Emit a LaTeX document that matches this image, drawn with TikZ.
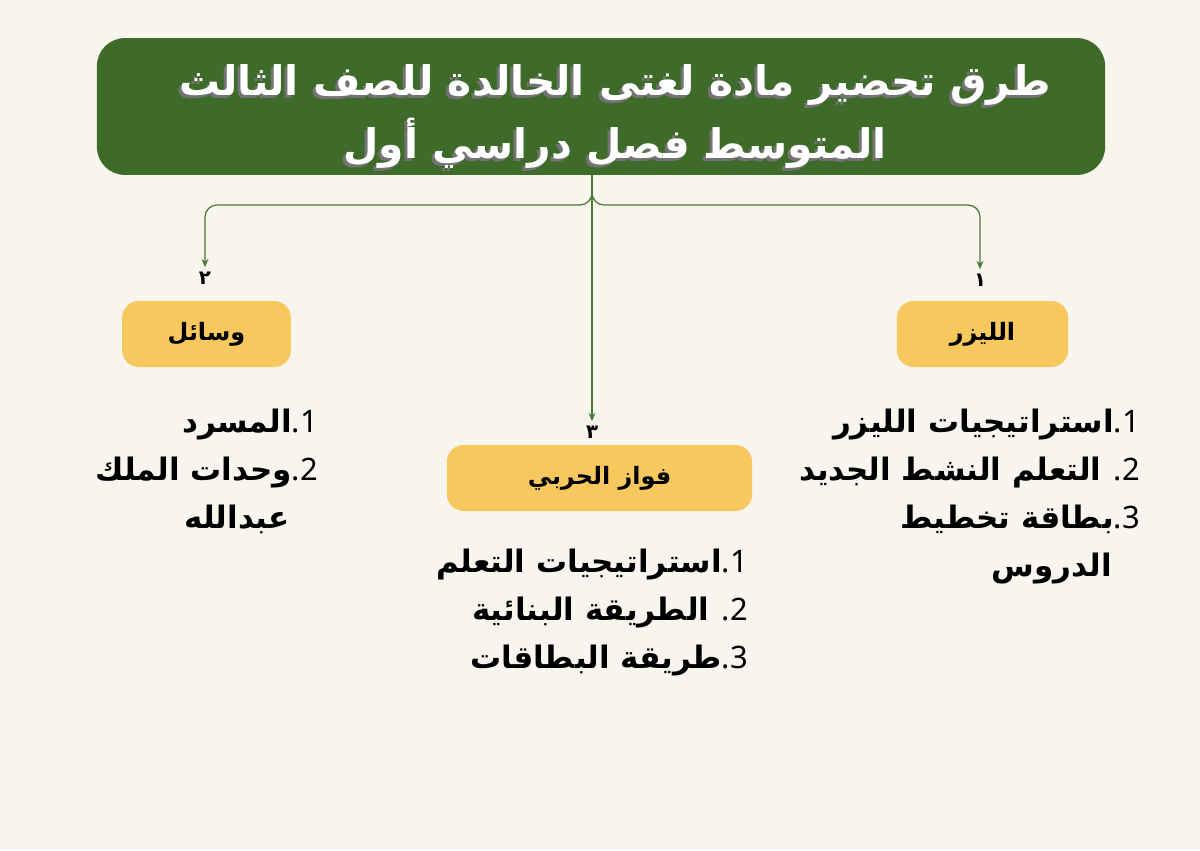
\documentclass[tikz,border=0pt]{standalone}
\usepackage{fontspec}
\usepackage{xcolor}
\usepackage{tikz}
\usetikzlibrary{arrows.meta,positioning}
\TeXXeTstate=1
\newfontfamily\arabicfont[Script=Arabic]{DejaVu Sans}
\newfontfamily\numfont{Noto Sans}
\definecolor{bgcream}{HTML}{F8F4EE}
\definecolor{titlegreen}{HTML}{3E6B29}
\definecolor{linegreen}{HTML}{4B7A36}
\definecolor{boxyellow}{HTML}{F7C85E}
\newcommand{\artxt}[1]{{\arabicfont\bfseries\beginR #1\endR}}
\newcommand{\itm}[2]{{\arabicfont\bfseries\beginR\beginL{\numfont\mdseries #1}\endL{\numfont\mdseries .}#2\endR}}

\begin{document}
\begin{tikzpicture}[
  x=0.025cm, y=-0.025cm,
  >={Stealth[length=6pt,width=5pt]},
  every node/.style={inner sep=0pt},
  titlebox/.style={fill=titlegreen, rounded corners=0.7cm, minimum width=25.2cm, minimum height=3.42cm},
  titletext/.style={font=\arabicfont\bfseries\fontsize{29}{43}\selectfont, text=white},
  branch/.style={fill=boxyellow, rounded corners=0.42cm, minimum height=1.65cm, font=\fontsize{17}{17}\selectfont},
  conn/.style={draw=linegreen, line width=0.9pt, ->, rounded corners=0.3cm, shorten >=3pt},
  num/.style={font=\arabicfont\bfseries\fontsize{14}{14}\selectfont},
  list/.style={font=\fontsize{22}{34}\selectfont, align=right, anchor=north east}
]
\fill[bgcream] (0,0) rectangle (1200,850);

% title
\node[titlebox] (title) at (601,106.5) {};
\node[titletext, text=black!55] (shadow1) at (612,88) {\artxt{طرق تحضير مادة لغتى الخالدة للصف الثالث}};
\node[titletext] (line1) at (615,85) {\artxt{طرق تحضير مادة لغتى الخالدة للصف الثالث}};
\node[titletext, text=black!55] (shadow2) at (612,146) {\artxt{المتوسط فصل دراسي أول}};
\node[titletext] (line2) at (615,143) {\artxt{المتوسط فصل دراسي أول}};

% numbers and branches
\coordinate (hub) at (592,175);
\node[num] (num1) at (980,280) {١};
\node[num] (num2) at (205,278) {٢};
\node[num] (num3) at (592,432) {٣};
\coordinate (lturn) at (205,205);
\coordinate (rturn) at (980,205);

\draw[conn] (hub) |- (lturn) -- (num2.north);
\draw[conn] (hub) |- (rturn) -- (num1.north);
\draw[conn] (hub) -- (num3.north);

\node[branch, minimum width=4.28cm] (laser) at (982.5,334) {\artxt{الليزر}};
\node[branch, minimum width=4.22cm] (tools) at (206.5,334) {\artxt{وسائل}};
\node[branch, minimum width=7.63cm] (fawaz) at (599.5,478) {\artxt{فواز الحربي}};

% lists
\node[list] (laserlist) at (1140,409) {\itm{1}{استراتيجيات الليزر}\\
  \itm{2}{\hspace{0.4em}التعلم النشط الجديد}\\
  \itm{3}{بطاقة تخطيط}\\
  \artxt{الدروس}\hspace*{0.7cm}};
\node[list] (toolslist) at (318,409) {\itm{1}{المسرد}\\
  \itm{2}{وحدات الملك}\\
  \artxt{عبدالله}\hspace*{0.7cm}};
\node[list] (fawazlist) at (748,549) {\itm{1}{استراتيجيات التعلم}\\
  \itm{2}{\hspace{0.4em}الطريقة البنائية}\\
  \itm{3}{طريقة البطاقات}};
\end{tikzpicture}
\end{document}
